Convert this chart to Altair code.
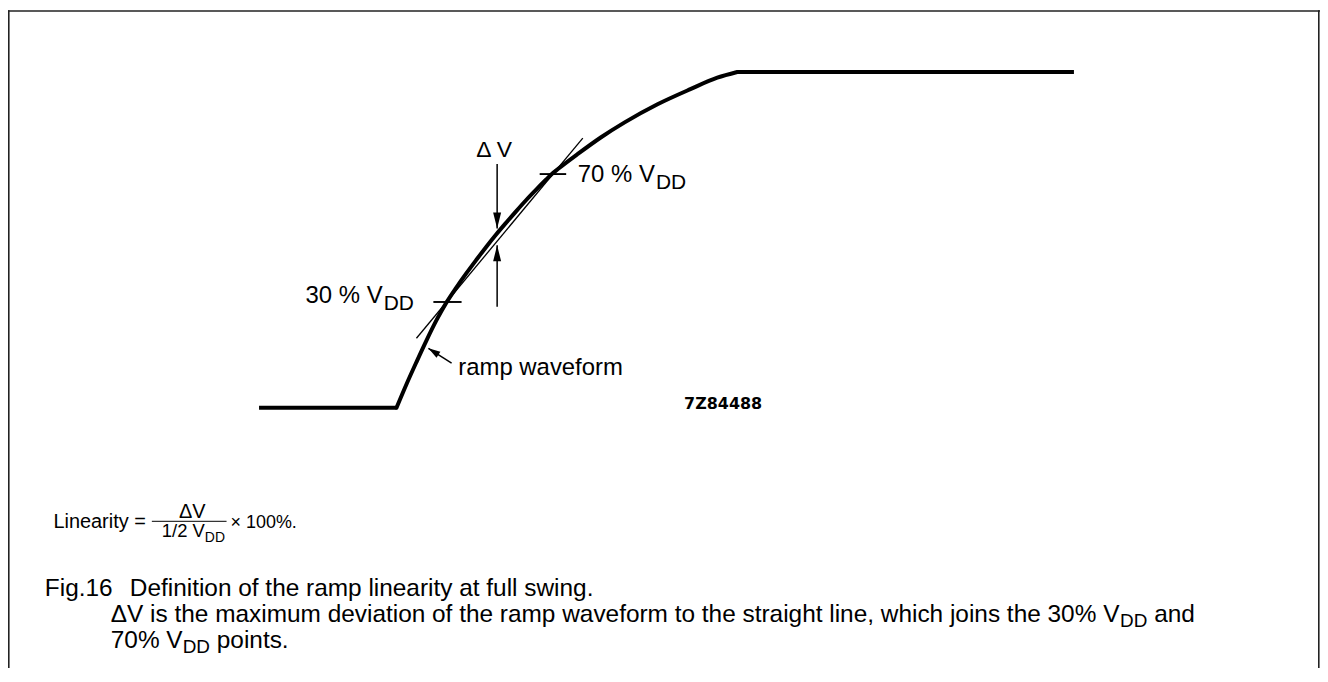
import altair as alt
import pandas as pd

# ---------------- data ----------------
# ramp waveform: time (arbitrary units) and voltage (% of VDD)
low_time = [-138, 0]
low_volt = [0, 0]
ramp_time = [0, 10, 20, 30, 40, 50, 60, 70, 80, 90, 100, 110, 120, 130,
             140, 150, 157, 162, 182, 205, 229, 262, 295, 322, 342]
ramp_volt = [0, 7.0, 13.6, 20.0, 26.0, 31.3, 35.8, 40.0, 44.0, 47.9, 51.6,
             55.1, 58.5, 61.8, 64.9, 67.9, 69.9, 71.1, 75.6, 80.5, 85.0, 90.4,
             94.9, 98.3, 100]
high_time = [342, 680]
high_volt = [100, 100]

# straight line joining the 30 % and 70 % points
chord_time = [20, 187]
chord_volt = [20.7, 80.3]

# short level marks at 30 % and 70 % VDD
level_volt = [31.5, 69.6]
level_from = [37, 143.7]
level_to = [65.3, 170.3]

# delta-V arrows (shaft tail and tip)
dv_time = [101, 101]
dv_tail = [72.6, 30.1]
dv_tip = [53.4, 48.4]
dv_dir = ["down", "up"]

# "ramp waveform" pointer
ptr_time = [55.3, 32]
ptr_volt = [13.3, 17.7]

# texts
lbl_dv = "\u0394 V"
lbl_70 = "70 % V"
lbl_30 = "30 % V"
lbl_sub = "DD"
lbl_ramp = "ramp waveform"
lbl_code = "7Z84488"
f_left = "Linearity ="
f_num = "\u0394V"
f_den = "1/2 V"
f_right = "\u00d7 100%."
cap1a = "Fig.16"
cap1b = "Definition of the ramp linearity at full swing."
cap2a = "\u0394V is the maximum deviation of the ramp waveform to the straight line, which joins the 30% V"
cap2b = "and"
cap3a = "70% V"
cap3b = "points."

# ---------------- layout ----------------
W, H = 1317, 660
PX_PER_PCT = 3.37
X_DOM = [-390, W - 390]
Y_DOM = [(400 - H) / PX_PER_PCT, 400 / PX_PER_PCT]
FONT = "Liberation Sans"

# Arial / Liberation Sans advance widths (per 1000 em)
_w = {' ': 278, '%': 889, '.': 278, ',': 278, '/': 278, '=': 584,
      '\u0394': 668, '\u00d7': 584}
for c in "0123456789":
    _w[c] = 556
_w.update(dict(zip("ABCDEFGHIJKLMNOPQRSTUVWXYZ",
                   [667, 667, 722, 722, 667, 611, 778, 722, 278, 500, 667, 556, 833,
                    722, 778, 667, 778, 722, 667, 611, 722, 667, 944, 667, 667, 611])))
_w.update(dict(zip("abcdefghijklmnopqrstuvwxyz",
                   [556, 556, 500, 556, 556, 278, 556, 556, 222, 222, 500, 222, 833,
                    556, 556, 556, 556, 333, 500, 278, 556, 500, 722, 500, 500, 500])))


def tw(s, size):
    return sum(_w.get(c, 556) for c in s) * size / 1000.0


xs = alt.Scale(domain=X_DOM, nice=False, zero=False)
ys = alt.Scale(domain=Y_DOM, nice=False, zero=False)
one = pd.DataFrame({"k": [0]})


def X(f):
    return alt.X(f, scale=xs, axis=None)


def Y(f):
    return alt.Y(f, scale=ys, axis=None)


def text(s, x, y, size, align="left", weight="normal", font=FONT):
    return alt.Chart(pd.DataFrame({"s": [s]})).mark_text(
        align=align, baseline="alphabetic", fontSize=size, fontWeight=weight,
        font=font, color="black").encode(
        x=alt.value(x), y=alt.value(y), text="s:N")


flat_df = pd.DataFrame({"t": low_time + high_time, "v": low_volt + high_volt,
                        "part": ["low", "low", "high", "high"]})
flats = alt.Chart(flat_df).mark_line(color="black", strokeWidth=4, strokeCap="butt").encode(
    x=X("t:Q"), y=Y("v:Q"), detail="part:N", order="t:Q")

ramp = alt.Chart(pd.DataFrame({"t": ramp_time, "v": ramp_volt})).mark_line(
    color="black", strokeWidth=4, strokeCap="round", strokeJoin="round",
    interpolate="monotone").encode(x=X("t:Q"), y=Y("v:Q"), order="t:Q")

chord = alt.Chart(pd.DataFrame({"t": [chord_time[0]], "t2": [chord_time[1]],
                                "v": [chord_volt[0]], "v2": [chord_volt[1]]})).mark_rule(
    color="black", strokeWidth=1.3).encode(x=X("t:Q"), x2="t2:Q", y=Y("v:Q"), y2="v2:Q")

levels = alt.Chart(pd.DataFrame({"a": level_from, "b": level_to, "v": level_volt})).mark_rule(
    color="black", strokeWidth=1.9).encode(x=X("a:Q"), x2="b:Q", y=Y("v:Q"))

dv_df = pd.DataFrame({"t": dv_time, "tail": dv_tail, "tip": dv_tip, "d": dv_dir})
shafts = alt.Chart(dv_df).mark_rule(color="black", strokeWidth=1.5).encode(
    x=X("t:Q"), y=Y("tail:Q"), y2="tip:Q")
head_down = alt.Chart(dv_df[dv_df.d == "down"]).mark_point(
    shape="M0,0 L-0.5,-2 L0.5,-2 Z", size=256, filled=True, color="black",
    opacity=1, strokeWidth=0).encode(x=X("t:Q"), y=Y("tip:Q"))
head_up = alt.Chart(dv_df[dv_df.d == "up"]).mark_point(
    shape="M0,0 L-0.5,2 L0.5,2 Z", size=256, filled=True, color="black",
    opacity=1, strokeWidth=0).encode(x=X("t:Q"), y=Y("tip:Q"))

ptr = alt.Chart(pd.DataFrame({"t": [ptr_time[0]], "t2": [ptr_time[1]],
                              "v": [ptr_volt[0]], "v2": [ptr_volt[1]]})).mark_rule(
    color="black", strokeWidth=1.5).encode(x=X("t:Q"), x2="t2:Q", y=Y("v:Q"), y2="v2:Q")
ptr_head = alt.Chart(pd.DataFrame({"t": [ptr_time[1]], "v": [ptr_volt[1]]})).mark_point(
    shape="M0,0 L-0.6,2 L0.6,2 Z", size=144, filled=True, color="black",
    opacity=1, strokeWidth=0, angle=302.7).encode(x=X("t:Q"), y=Y("v:Q"))

# frame
frame_top = alt.Chart(one).mark_rule(color="#222", strokeWidth=1.6).encode(
    x=alt.value(0), x2=alt.value(W), y=alt.value(1.8))
frame_left = alt.Chart(one).mark_rule(color="#222", strokeWidth=1.6).encode(
    x=alt.value(0.8), y=alt.value(1), y2=alt.value(H + 10))
frame_right = alt.Chart(one).mark_rule(color="#222", strokeWidth=1.6).encode(
    x=alt.value(W - 1.2), y=alt.value(1), y2=alt.value(H + 10))

# diagram labels (chart pixel coordinates = page - 8)
L = 24
S = 21
labels = [
    text(lbl_dv, 488, 148, 23, align="center"),
    text(lbl_70, 572, 173.7, L),
    text(lbl_sub, 572 + tw(lbl_70, L) + 1, 180.5, S),
    text(lbl_30, 298.7, 295.3, L),
    text(lbl_sub, 298.7 + tw(lbl_30, L) + 1, 302, S),
    text(lbl_ramp, 452, 367, 24),
    text(lbl_code, 678.7, 401.3, 16, weight="bold", font="DejaVu Sans"),
]

# caption geometry
CS = 24.5
x0 = 37
cx1 = x0 + 2.7 * CS
cxd = x0 + 3.48 * CS
cy1, cy2, cy3 = 589, 615, 641
SUB = 19
w2 = tw(cap2a, CS)
w3 = tw(cap3a, CS)
sp = tw(" ", CS)
caption = [
    text(cap1a, x0, cy1, CS),
    text(cap1b, cxd, cy1, CS),
    text(cap2a, cx1, cy2, CS),
    text(lbl_sub, cx1 + w2, cy2 + 5, SUB),
    text(cap2b, cx1 + w2 + tw(lbl_sub, SUB) + sp, cy2, CS),
    text(cap3a, cx1, cy3, CS),
    text(lbl_sub, cx1 + w3, cy3 + 5, SUB),
    text(cap3b, cx1 + w3 + tw(lbl_sub, SUB) + sp, cy3, CS),
]

# formula
FS = 20
fx = x0 + 0.35 * CS
fb = 521
bar0 = fx + tw(f_left, FS) + 6
bar1 = bar0 + 75
num_c = (bar0 + bar1) / 2 + 3
DS = 18.5
formula = [
    text(f_left, fx, fb, FS),
    text(f_num, num_c, fb - 10, FS, align="center"),
    alt.Chart(one).mark_rule(color="black", strokeWidth=1).encode(
        x=alt.value(bar0), x2=alt.value(bar1), y=alt.value(fb - 7)),
    text(f_den, bar0 + 10, fb + 9, DS),
    text(lbl_sub, bar0 + 10 + tw(f_den, DS), fb + 14, 14),
    text(f_right, bar1 + 4, fb, 18),
]

chart = alt.layer(
    frame_top, frame_left, frame_right,
    chord, flats, ramp, levels, shafts, head_down, head_up, ptr, ptr_head,
    *labels, *formula, *caption
).properties(
    width=W, height=H, padding=0, autosize=alt.AutoSizeParams(type="none"),
    background="white"
).configure_view(stroke=None)

chart.save("out.html", embed_options={"renderer": "svg", "actions": False})
